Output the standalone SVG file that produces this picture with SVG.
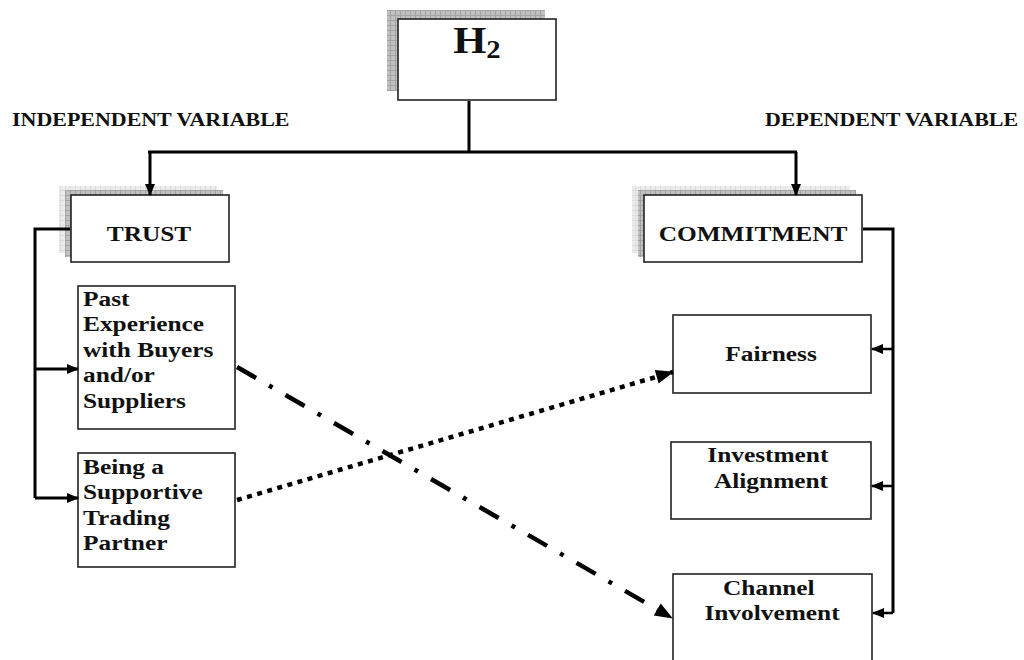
<svg xmlns="http://www.w3.org/2000/svg" width="1024" height="660" viewBox="0 0 1024 660">
  <style>
    .box { fill: #ffffff; stroke: #222222; stroke-width: 1.6; }
    .t { font-family: "Liberation Serif", "Times New Roman", serif; font-weight: bold; fill: #111111; }
    .wire { fill: none; stroke: #000000; stroke-width: 3; }
    .feed { fill: none; stroke: #000000; stroke-width: 2.5; }
  </style>
  <defs>
    <pattern id="hatchMid" width="5" height="5" patternUnits="userSpaceOnUse">
      <rect width="5" height="5" fill="#c0c0c0"/>
      <path d="M0,0.5 H5 M0.5,0 V5" stroke="#a4a4a4" stroke-width="1"/>
    </pattern>
    <pattern id="hatchLight" width="5" height="5" patternUnits="userSpaceOnUse">
      <rect width="5" height="5" fill="#ececec"/>
      <path d="M0,0.5 H5 M0.5,0 V5" stroke="#dddddd" stroke-width="1"/>
    </pattern>
    <marker id="tipSm" viewBox="0 0 12 10" markerUnits="userSpaceOnUse" markerWidth="12" markerHeight="10" refX="11" refY="5" orient="auto" overflow="visible">
      <path d="M0,0 L12,5 L0,10 z" fill="#000"/>
    </marker>
    <marker id="tipLg" viewBox="0 0 18 14" markerUnits="userSpaceOnUse" markerWidth="18" markerHeight="14" refX="17" refY="7" orient="auto" overflow="visible">
      <path d="M0,0 L18,7 L0,14 z" fill="#000"/>
    </marker>
  </defs>

  <rect width="1024" height="660" fill="#ffffff"/>

  <!-- side headings -->
  <text class="t" font-size="18.3" transform="translate(12,126) scale(1.2,1)">INDEPENDENT VARIABLE</text>
  <text class="t" font-size="18.3" transform="translate(765,126) scale(1.2,1)">DEPENDENT VARIABLE</text>

  <g id="h2">
    <rect x="387" y="10" width="158" height="81" fill="url(#hatchMid)"/>
    <rect class="box" x="398" y="19" width="158" height="81"/>
    <text class="t" font-size="37" text-anchor="middle" transform="translate(477,53) scale(1.15,1)">H<tspan font-size="25" dy="5">2</tspan></text>
  </g>

  <g id="trust">
    <rect x="59" y="186" width="158" height="67" fill="url(#hatchLight)"/>
    <rect x="65" y="190" width="158" height="67" fill="url(#hatchMid)"/>
    <rect class="box" x="71" y="195" width="158" height="67"/>
    <text class="t" font-size="21.5" text-anchor="middle" transform="translate(149,241) scale(1.18,1)">TRUST</text>
  </g>

  <g id="commitment">
    <rect x="632" y="186" width="218" height="67" fill="url(#hatchLight)"/>
    <rect x="638" y="190" width="218" height="67" fill="url(#hatchMid)"/>
    <rect class="box" x="644" y="195" width="218" height="67"/>
    <text class="t" font-size="21.5" text-anchor="middle" transform="translate(753,241) scale(1.18,1)">COMMITMENT</text>
  </g>

  <g id="past-experience">
    <rect class="box" x="78" y="286" width="157" height="143"/>
    <text class="t" font-size="21.5" transform="translate(83,306) scale(1.18,1)">
      <tspan x="0" y="0">Past</tspan>
      <tspan x="0" dy="25.5">Experience</tspan>
      <tspan x="0" dy="25.5">with Buyers</tspan>
      <tspan x="0" dy="25.5">and/or</tspan>
      <tspan x="0" dy="25.5">Suppliers</tspan>
    </text>
  </g>

  <g id="supportive-partner">
    <rect class="box" x="78" y="453" width="157" height="114"/>
    <text class="t" font-size="21.5" transform="translate(83,474) scale(1.18,1)">
      <tspan x="0" y="0">Being a</tspan>
      <tspan x="0" dy="25.5">Supportive</tspan>
      <tspan x="0" dy="25.5">Trading</tspan>
      <tspan x="0" dy="25.5">Partner</tspan>
    </text>
  </g>

  <g id="fairness">
    <rect class="box" x="673" y="315" width="198" height="78"/>
    <text class="t" font-size="21.5" text-anchor="middle" transform="translate(771,361) scale(1.18,1)">Fairness</text>
  </g>

  <g id="investment-alignment">
    <rect class="box" x="671" y="442" width="200" height="77"/>
    <text class="t" font-size="21.5" text-anchor="middle" transform="translate(771,462) scale(1.18,1)">
      <tspan x="0" y="0">Investment</tspan>
      <tspan x="0" dy="26">Alignment</tspan>
    </text>
  </g>

  <g id="channel-involvement">
    <rect class="box" x="673" y="574" width="199" height="100"/>
    <text class="t" font-size="21.5" text-anchor="middle" transform="translate(772,595) scale(1.18,1)">
      <tspan x="0" y="0">Channel</tspan>
      <tspan x="0" dy="25">Involvement</tspan>
    </text>
  </g>

  <!-- connectors, drawn last so arrowheads sit over the box shadows -->
  <g id="connectors">
    <!-- hypothesis split -->
    <path class="wire" d="M469,101 V152 M148,152 H797"/>
    <path class="wire" d="M150,152 V195" marker-end="url(#tipSm)"/>
    <path class="wire" d="M796,152 V195" marker-end="url(#tipSm)"/>
    <!-- trust bracket -->
    <path class="wire" d="M70,229 H35 V498"/>
    <path class="wire" d="M35,369 H78" marker-end="url(#tipSm)"/>
    <path class="wire" d="M35,498 H78" marker-end="url(#tipSm)"/>
    <!-- commitment bracket -->
    <path class="wire" stroke-width="4" d="M863,229 H893 V613"/>
    <path class="feed" d="M893,349 H872" marker-end="url(#tipSm)"/>
    <path class="feed" d="M893,486 H872" marker-end="url(#tipSm)"/>
    <path class="feed" d="M893,613 H873" marker-end="url(#tipSm)"/>
    <!-- cross links -->
    <line x1="237" y1="367" x2="672" y2="618" stroke="#000" stroke-width="4.5" stroke-dasharray="22 15 4 15" marker-end="url(#tipLg)"/>
    <line x1="237" y1="500" x2="673" y2="372" stroke="#000" stroke-width="4.5" stroke-dasharray="5 5.5" marker-end="url(#tipLg)"/>
  </g>
</svg>
